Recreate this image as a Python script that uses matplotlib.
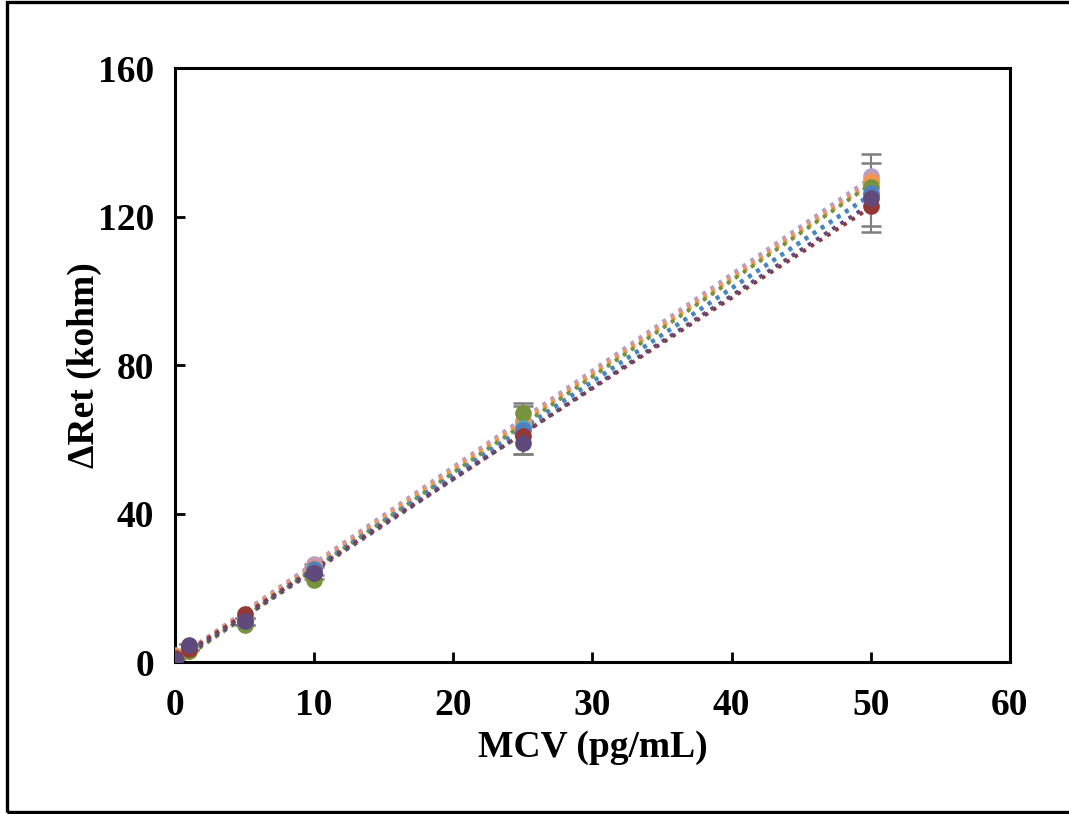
import matplotlib
matplotlib.use('Agg')
import matplotlib.pyplot as plt
import numpy as np
from matplotlib.patches import Rectangle

# concentrations (pg/mL)
mcv = [0, 1, 5, 10, 25, 50]

# delta Ret (kohm) for each measurement series
series_colors = ['#B3A2C7', '#D99694', '#F79646', '#77933C', '#4BACC6',
                 '#4F81BD', '#953735', '#604A7B']
series_values = [
    [2.0, 4.0, 12.0, 26.5, 65.0, 131.0],
    [1.5, 3.5, 12.0, 26.0, 65.0, 130.0],
    [1.5, 3.0, 12.0, 25.0, 64.0, 129.5],
    [1.0, 3.0, 10.0, 22.0, 67.0, 128.0],
    [1.0, 4.0, 11.0, 24.0, 63.0, 126.0],
    [1.0, 4.0, 11.0, 25.0, 62.5, 126.5],
    [1.0, 3.5, 13.0, 24.0, 61.0, 123.0],
    [0.5, 4.5, 11.0, 24.0, 59.0, 125.0],
]
# error bars (only two series show them)
series_errors = {
    4: [0.5, 0.8, 1.0, 1.5, 6.8, 8.6],
    5: [0.5, 0.8, 1.0, 1.5, 6.5, 10.5],
}

plt.rcParams['font.family'] = 'Liberation Serif'
plt.rcParams['font.weight'] = 'bold'

fig = plt.figure(figsize=(10.69, 8.14), dpi=100)
ax = fig.add_axes([0.1637, 0.1867, 0.781, 0.7293])

# outer frame around the whole picture
fig.patches.append(Rectangle((0.0065, 0.003), 1.2, 0.994, transform=fig.transFigure,
                             fill=False, edgecolor='black', linewidth=2.4))

x = np.array(mcv, dtype=float)
xfit = np.array([0, 50])
for i, (c, vals) in enumerate(zip(series_colors, series_values)):
    y = np.array(vals)
    k, b = np.polyfit(x, y, 1)
    ax.plot(xfit, k * xfit + b, linestyle=(0, (1, 1.5)), color=c, linewidth=2.8, zorder=2)
    if i in series_errors:
        ax.errorbar(x, y, yerr=series_errors[i], fmt='none', ecolor='#7F7F7F',
                    elinewidth=1.5, capsize=7, capthick=1.8, zorder=1)
    ax.plot(x, y, 'o', color=c, markersize=12, markeredgewidth=0, zorder=3)

ax.set_xlim(0, 60)
ax.set_ylim(0, 160)
ax.set_xticks(range(0, 61, 10))
ax.set_yticks(range(0, 161, 40))
ax.tick_params(direction='in', length=7, width=2, labelsize=27)
ax.tick_params(axis='y', pad=15)
ax.tick_params(axis='x', pad=19)
for lab in ax.get_xticklabels() + ax.get_yticklabels():
    lab.set_fontweight('bold')
for s in ax.spines.values():
    s.set_linewidth(2.2)

ax.set_xlabel('MCV (pg/mL)', fontsize=27, fontweight='bold', labelpad=5)
ax.set_ylabel('ΔRet (kohm)', fontsize=27, fontweight='bold', labelpad=-3)

fig.savefig('out.png', dpi=100)
